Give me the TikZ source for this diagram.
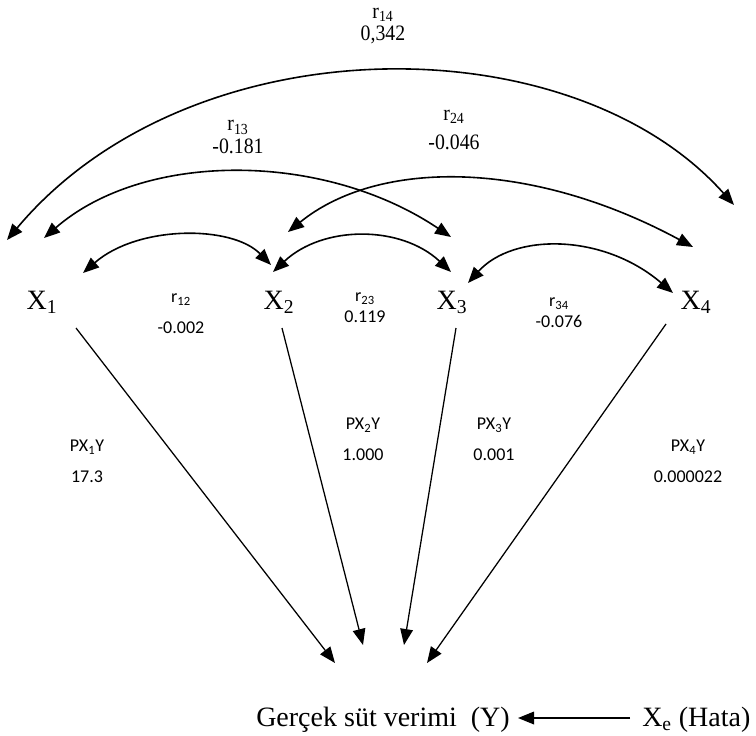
\documentclass[tikz,border=0pt]{standalone}
\usepackage{fontspec}
\setmainfont{Liberation Serif}
\newfontfamily\calibfont{Carlito}
\newfontfamily\narrowfont[FakeStretch=0.9]{Liberation Serif}
\usetikzlibrary{arrows.meta, calc}

\begin{document}
\begin{tikzpicture}[
    x=0.75pt, y=-0.75pt,
    >={Triangle[length=12pt, width=9.5pt]},
    var/.style={font=\fontsize{21}{24}\selectfont, inner sep=0pt, anchor=base},
    coef/.style={font=\calibfont\fontsize{13.5}{23}\selectfont, align=center, inner sep=0pt},
    corr/.style={font=\narrowfont\fontsize{16.5}{17}\selectfont, align=center, inner sep=0pt},
    corrarc/.style={<->, line width=1.2pt},
    pathln/.style={->, line width=0.95pt}
]
\useasboundingbox (0,0) rectangle (756,735);

% variables
\node[var] (x1) at (42,309) {X\textsubscript{1}};
\node[var] (x2) at (279,309) {X\textsubscript{2}};
\node[var] (x3) at (452,309) {X\textsubscript{3}};
\node[var] (x4) at (696,309) {X\textsubscript{4}};
\node[var, anchor=base east] (y) at (510,726) {Gerçek süt verimi~~(Y)};
\node[var, anchor=base west] (xe) at (642,726) {X\textsubscript{e} (Hata)};

% correlations
\node[corr] (r14) at (383,26) {r\textsubscript{14}\\0,342};
\node[corr] (r13) at (238,137) {r\textsubscript{13}\\-0.181};
\node[corr] (r24) at (454,130) {r\textsubscript{24}\\[5pt]-0.046};
\node[coef] (r12) at (181,314) {r\textsubscript{12}\\-0.002};
\node[coef] (r23) at (365,308) {r\textsubscript{23}\\[-7pt]0.119};
\node[coef] (r34) at (559,313) {r\textsubscript{34}\\[-7pt]-0.076};

% path coefficients
\node[coef] (p1y) at (87,461) {PX\textsubscript{1}Y\\17.3};
\node[coef] (p2y) at (363,439) {PX\textsubscript{2}Y\\1.000};
\node[coef] (p3y) at (494,439) {PX\textsubscript{3}Y\\0.001};
\node[coef] (p4y) at (688,461) {PX\textsubscript{4}Y\\0.000022};

% arc ends
\coordinate (a14) at (7,240);   \coordinate (b14) at (734,205);
\coordinate (a13) at (44,238);  \coordinate (b13) at (451,237);
\coordinate (a24) at (288,232); \coordinate (b24) at (693,247);
\coordinate (a12) at (83,273);  \coordinate (b12) at (271,265);
\coordinate (a23) at (273,272); \coordinate (b23) at (451,272);
\coordinate (a34) at (468,283); \coordinate (b34) at (673,293);

\draw[corrarc] (a14) .. controls (190,22) and (571,22) .. (b14);
\draw[corrarc] (a13) .. controls (144,151) and (323,151) .. (b13);
\draw[corrarc] (a24) .. controls (378,159) and (530,159) .. (b24);
\draw[corrarc] (a12) .. controls (138,225) and (232,225) .. (b12);
\draw[corrarc] (a23) .. controls (323,225) and (401,225) .. (b23);
\draw[corrarc] (a34) .. controls (513,233) and (603,233) .. (b34);

% direct effects
\coordinate (s1) at (76,328);  \coordinate (t1) at (335,663);
\coordinate (s2) at (282,328); \coordinate (t2) at (363,645);
\coordinate (s3) at (456,328); \coordinate (t3) at (404,645);
\coordinate (s4) at (666,324); \coordinate (t4) at (427,663);
\draw[pathln] (s1) -- (t1);
\draw[pathln] (s2) -- (t2);
\draw[pathln] (s3) -- (t3);
\draw[pathln] (s4) -- (t4);

\draw[pathln] ($(xe.base west)+(-12,-8)$) -- ($(y.base east)+(8,-8)$);
\end{tikzpicture}
\end{document}
